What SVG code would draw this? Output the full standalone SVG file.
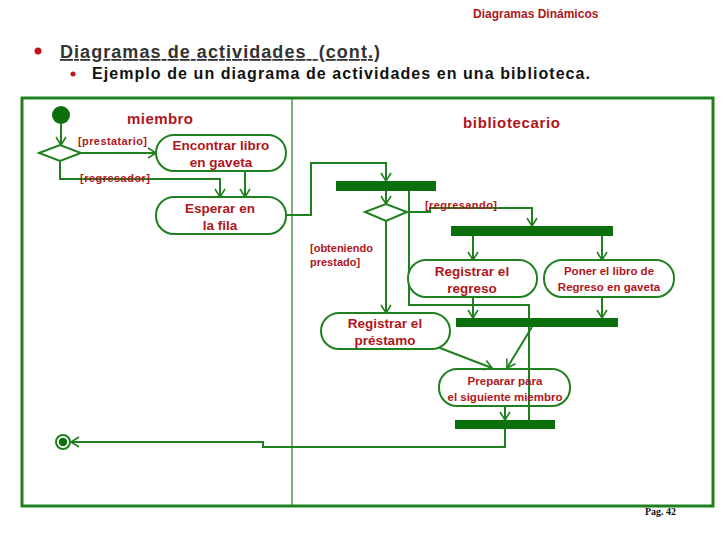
<svg xmlns="http://www.w3.org/2000/svg" width="728" height="546" viewBox="0 0 728 546">
<defs>
<style>
.ln{fill:none;stroke:#1f801f;stroke-width:2}
.bar{fill:#0b700b}
.box{fill:#fff;stroke:#1f801f;stroke-width:2}
.t{font-family:"Liberation Sans",Arial,sans-serif;font-weight:bold;fill:#b0161c}
.big{font-size:13.5px}
.sm{font-size:11.5px}
.lbl{font-size:11px}
.lane{font-size:15px}
</style>
<marker id="arr" markerUnits="userSpaceOnUse" markerWidth="12" markerHeight="12" viewBox="0 0 12 12" refX="10" refY="6" orient="auto">
<path d="M2,1 L10,6 L2,11" fill="none" stroke="#1f801f" stroke-width="1.6"/>
</marker>
</defs>
<rect width="728" height="546" fill="#fff"/>
<text x="473" y="18" class="t" style="font-size:12px">Diagramas Dinámicos</text>
<circle cx="38" cy="51" r="3.5" fill="#c0161c"/>
<text x="60" y="58" style="font-family:'Liberation Sans',Arial,sans-serif;font-weight:bold;font-size:18px;fill:#333" text-decoration="underline" textLength="320">Diagramas de actividades &#160;(cont.)</text>
<circle cx="73" cy="74" r="2.5" fill="#c0161c"/>
<text x="92" y="79" style="font-family:'Liberation Sans',Arial,sans-serif;font-weight:bold;font-size:16px;fill:#111" textLength="498">Ejemplo de un diagrama de actividades en una biblioteca.</text>
<g id="frame">
<rect x="22" y="98" width="691" height="408" fill="none" stroke="#1f801f" stroke-width="3"/>
<line x1="292" y1="98" x2="292" y2="506" stroke="#1f801f" stroke-width="1.2"/>
<text x="127" y="124" class="t lane" textLength="66">miembro</text>
<text x="463" y="128" class="t lane" textLength="97">bibliotecario</text>
</g>
<g id="connectors">
<path class="ln" d="M61,124 V145" marker-end="url(#arr)"/>
<path class="ln" d="M81,153 H156" marker-end="url(#arr)"/>
<path class="ln" d="M60,161 V179 H220 V197" marker-end="url(#arr)"/>
<path class="ln" d="M245,171 V197" marker-end="url(#arr)"/>
<path class="ln" d="M286,215 H311 V163 H386 V181" marker-end="url(#arr)"/>
<path class="ln" d="M386,191 V204" marker-end="url(#arr)"/>
<path class="ln" d="M409,191 V305 H529 V424"/>
<path class="ln" d="M406,212 H430 V208 H532 V226" marker-end="url(#arr)"/>
<path class="ln" d="M386,221 V313" marker-end="url(#arr)"/>
<path class="ln" d="M473,236 V260" marker-end="url(#arr)"/>
<path class="ln" d="M602,236 V260" marker-end="url(#arr)"/>
<path class="ln" d="M473,297 V318" marker-end="url(#arr)"/>
<path class="ln" d="M602,297 V318" marker-end="url(#arr)"/>
<path class="ln" d="M532,327 L507,368" marker-end="url(#arr)"/>
<path class="ln" d="M440,348 L492,368" marker-end="url(#arr)"/>
<path class="ln" d="M505,406 V420" marker-end="url(#arr)"/>
<path class="ln" d="M505,429 V447 H263 V442 H71" marker-end="url(#arr)"/>
<text x="78" y="145" class="t lbl" textLength="69">[prestatario]</text>
<text x="80" y="182" class="t lbl" textLength="70">[regresador]</text>
<text x="425" y="209" class="t lbl" textLength="72">[regresando]</text>
<text x="310" y="252" class="t lbl">[obteniendo</text>
<text x="310" y="266" class="t lbl">prestado]</text>
</g>
<g id="start"><circle cx="61" cy="115" r="9" fill="#0b700b"/></g>
<g id="decision1"><polygon points="39,153 60,145 81,153 60,161" fill="#fff" stroke="#1f801f" stroke-width="2"/></g>
<g id="encontrar">
<rect class="box" x="156" y="135" width="130" height="36" rx="18"/>
<text x="221" y="150" class="t big" text-anchor="middle">Encontrar libro</text>
<text x="221" y="167" class="t big" text-anchor="middle">en gaveta</text>
</g>
<g id="esperar">
<rect class="box" x="156" y="197" width="130" height="37" rx="18"/>
<text x="220" y="213" class="t big" text-anchor="middle">Esperar en</text>
<text x="220" y="230" class="t big" text-anchor="middle">la fila</text>
</g>
<g id="fork1"><rect class="bar" x="336" y="181" width="100" height="10"/></g>
<g id="decision2"><polygon points="365,212 386,204 407,212 386,221" fill="#fff" stroke="#1f801f" stroke-width="2"/></g>
<g id="fork2"><rect class="bar" x="451" y="226" width="162" height="10"/></g>
<g id="registrar-regreso">
<rect class="box" x="408" y="260" width="129" height="37" rx="18"/>
<text x="472" y="276" class="t big" text-anchor="middle">Registrar el</text>
<text x="472" y="293" class="t big" text-anchor="middle">regreso</text>
</g>
<g id="poner">
<rect class="box" x="544" y="260" width="130" height="37" rx="18"/>
<text x="609" y="275" class="t sm" text-anchor="middle">Poner el libro de</text>
<text x="609" y="291" class="t sm" text-anchor="middle">Regreso en gaveta</text>
</g>
<g id="join3"><rect class="bar" x="456" y="318" width="162" height="9"/></g>
<g id="registrar-prestamo">
<rect class="box" x="321" y="313" width="129" height="36" rx="18"/>
<text x="385" y="328" class="t big" text-anchor="middle">Registrar el</text>
<text x="385" y="345" class="t big" text-anchor="middle">préstamo</text>
</g>
<g id="preparar">
<rect class="box" x="439" y="369" width="131" height="37" rx="18" fill-opacity="0"/>
<text x="505" y="385" class="t sm" text-anchor="middle">Preparar para</text>
<text x="505" y="401" class="t sm" text-anchor="middle">el siguiente miembro</text>
</g>
<g id="join4"><rect class="bar" x="455" y="420" width="100" height="9"/></g>
<g id="end">
<circle cx="63" cy="442" r="7" fill="#fff" stroke="#1f801f" stroke-width="2"/>
<circle cx="63" cy="442" r="4.2" fill="#0b700b"/>
</g>
<text x="645" y="515" style="font-family:'Liberation Serif','Times New Roman',serif;font-weight:bold;font-size:10px;fill:#111">Pag. 42</text>
</svg>
